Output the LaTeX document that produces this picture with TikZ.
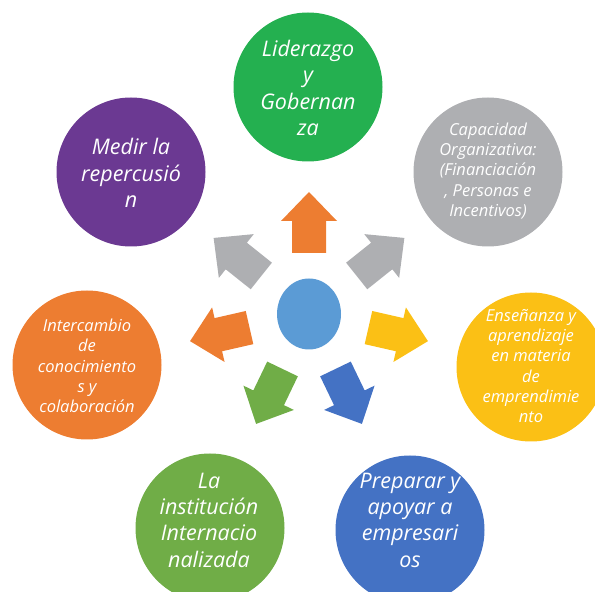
\documentclass[tikz,border=0pt]{standalone}
\usepackage{fontspec}
\usetikzlibrary{shapes.geometric}
\setmainfont{Open Sans}
\definecolor{cGreenA}{RGB}{36,176,80}
\definecolor{cGray}{RGB}{174,175,178}
\definecolor{cYellow}{RGB}{251,192,21}
\definecolor{cOrange}{RGB}{237,125,49}
\definecolor{cPurple}{RGB}{107,57,146}
\definecolor{cGreenB}{RGB}{112,173,71}
\definecolor{cBlue}{RGB}{68,114,196}
\definecolor{cCenter}{RGB}{91,155,213}
\tikzset{
  bubble/.style={circle, minimum size=149pt, inner sep=0pt},
  bigtxt/.style={text=white, align=center, font=\itshape\fontsize{21.5}{26.3}\selectfont},
  smalltxt/.style={text=white, align=center, font=\itshape\fontsize{16.5}{20.3}\selectfont},
}
\newcommand{\radarrow}[2]{%
  \begin{scope}[shift={(309,278)}, rotate=#1]
    \fill[#2] (61,-17) -- (93,-17) -- (93,-28) -- (122,0) -- (93,28) -- (93,17) -- (61,17) -- cycle;
  \end{scope}}
\begin{document}
\begin{tikzpicture}[x=1pt,y=1pt]
\useasboundingbox (0,0) rectangle (595,592);
\clip (0,0) rectangle (595,592);
% circles
\node[bubble, fill=cGreenA] (lid) at (308,505) {};
\node[bubble, fill=cGray] (cap) at (488,420) {};
\node[bubble, fill=cYellow] (ens) at (531,225) {};
\node[bubble, fill=cBlue] (pre) at (410,62) {};
\node[bubble, fill=cGreenB] (ins) at (210,64) {};
\node[bubble, fill=cOrange] (int) at (87,227) {};
\node[bubble, fill=cPurple] (med) at (131,420) {};
% center
\node[ellipse, fill=cCenter, minimum width=64pt, minimum height=71pt, inner sep=0pt] (ctr) at (309,278) {};
% arrows
\radarrow{90}{cOrange}
\radarrow{38.57}{cGray}
\radarrow{-12.86}{cYellow}
\radarrow{-64.29}{cBlue}
\radarrow{-115.71}{cGreenB}
\radarrow{-167.14}{cOrange}
\radarrow{141.43}{cGray}
% texts
\node[bigtxt] (tlid) at (308,504) {Liderazgo\\y\\Gobernan\\za};
\node[smalltxt] (tcap) at (488,421) {Capacidad\\Organizativa:\\(Financiación\\, Personas e\\Incentivos)};
\node[smalltxt] (tens) at (531,226) {Enseñanza y\\aprendizaje\\en materia\\de\\emprendimie\\nto};
\node[bigtxt] (tpre) at (410,72) {Preparar y\\apoyar a\\empresari\\os};
\node[bigtxt] (tins) at (209,72) {La\\institución\\Internacio\\nalizada};
\node[smalltxt] (tint) at (87,226) {Intercambio\\de\\conocimiento\\s y\\colaboración};
\node[bigtxt] (tmed) at (131,419) {Medir la\\repercusió\\n};
\end{tikzpicture}
\end{document}
